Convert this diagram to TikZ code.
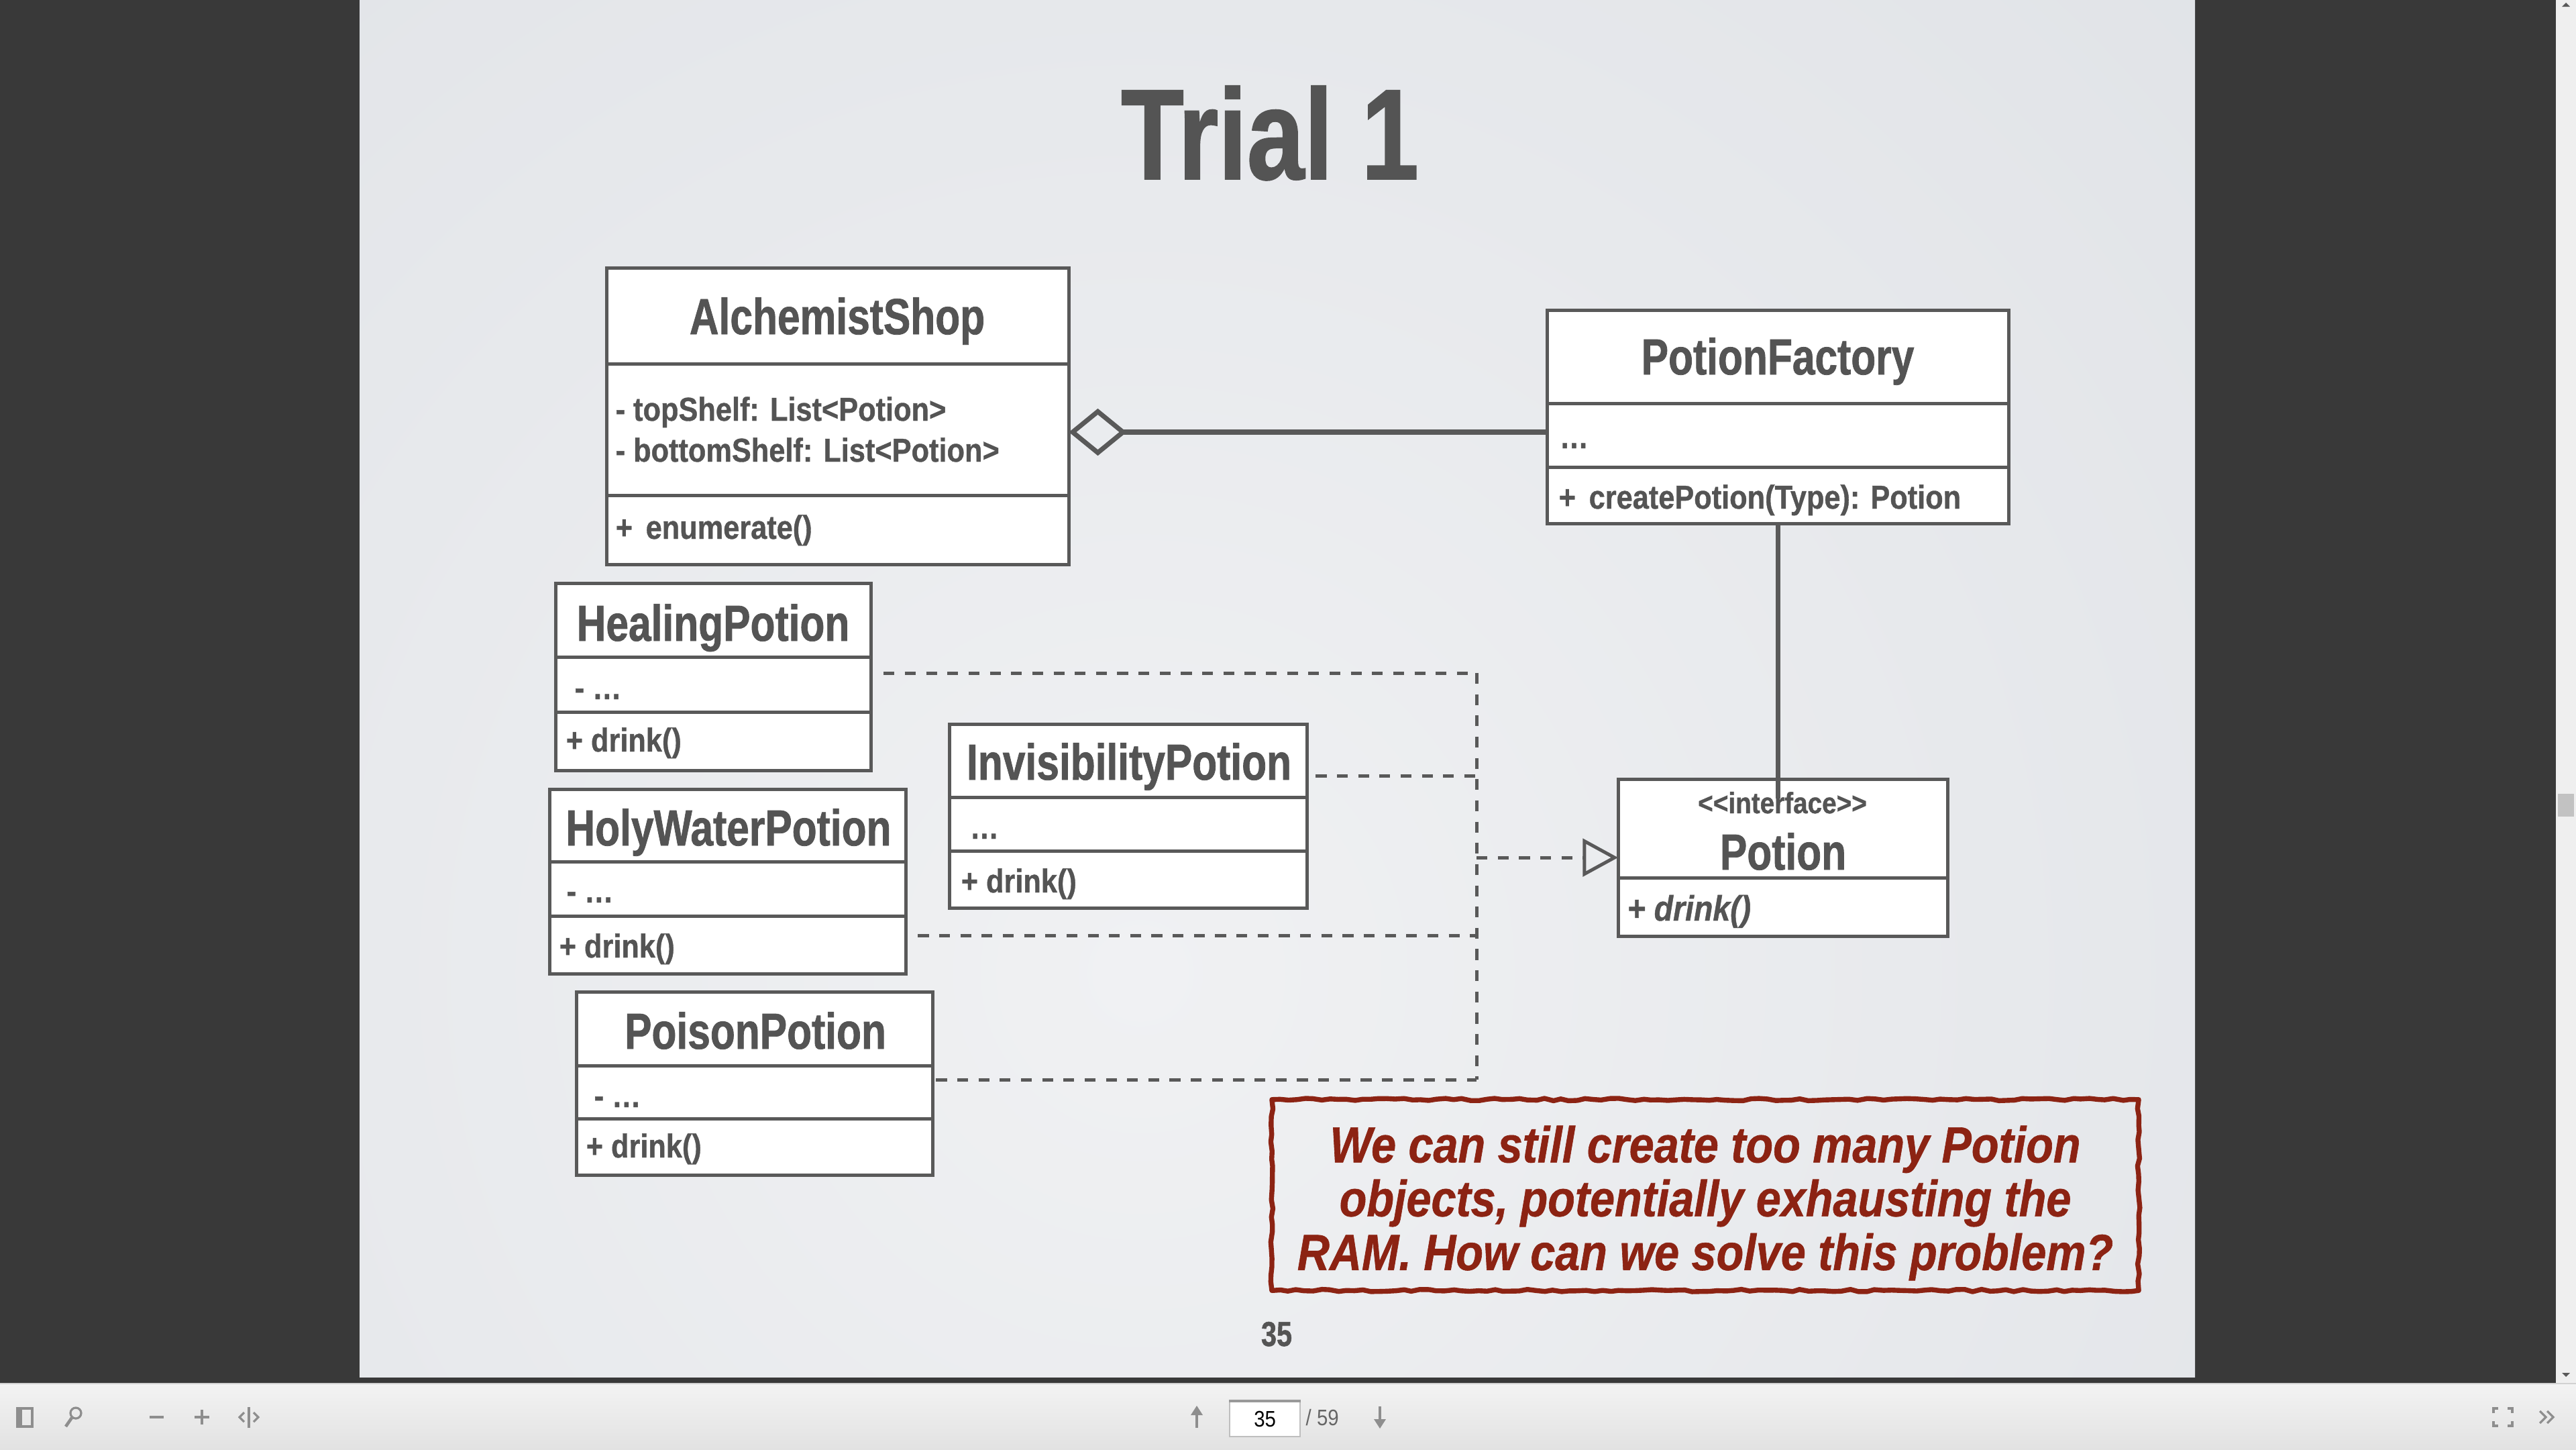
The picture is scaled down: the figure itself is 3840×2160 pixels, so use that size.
\documentclass[tikz,border=0pt]{standalone}
\usepackage{fontspec}
\setmainfont{Liberation Sans}
\newfontfamily\cndA{Liberation Sans}[FakeStretch=0.8, FakeBold=1.0]
\newfontfamily\cndB{Liberation Sans}[FakeStretch=0.88, FakeBold=0.8]
\newfontfamily\cndC{Liberation Sans}[FakeStretch=0.88]
\usetikzlibrary{arrows.meta,decorations.pathmorphing}

\definecolor{darkbg}{HTML}{393939}
\definecolor{slidein}{HTML}{F0F1F3}
\definecolor{slideout}{HTML}{D2D6DC}
\definecolor{linegray}{HTML}{595959}
\definecolor{txtgray}{HTML}{545454}
\definecolor{redc}{HTML}{8C2313}
\definecolor{tbtop}{HTML}{F3F3F3}
\definecolor{tbbot}{HTML}{E2E2E2}
\definecolor{icongray}{HTML}{8E8E8E}
\definecolor{scrollbg}{HTML}{EFEFEF}
\definecolor{thumb}{HTML}{C2C2C2}

\begin{document}
\begin{tikzpicture}[x=0.01cm,y=-0.01cm,
  classbox/.style={draw=linegray, line width=1.42pt, fill=white, inner sep=0pt, outer sep=0pt, anchor=north west},
  divider/.style={draw=linegray, line width=1.42pt},
  ctitle/.style={anchor=base, inner sep=0pt, text=txtgray, font=\cndA\bfseries\fontsize{21.5}{25}\selectfont},
  cattr/.style={anchor=base west, inner sep=0pt, text=txtgray, font=\cndB\bfseries\fontsize{14}{17}\selectfont},
  assoc/.style={draw=linegray, line width=2pt},
  realize/.style={draw=linegray, line width=1.42pt, dash pattern=on 4.6pt off 4.4pt},
  icon/.style={draw=icongray, line width=0.9pt},
]
\useasboundingbox (0,0) rectangle (3840,2160);

% ---------- viewer window ----------
\fill[darkbg] (0,0) rectangle (3840,2062);
\begin{scope}
  \clip (536,0) rectangle (3272,2052);
  \shade[inner color=slidein, outer color=slideout] (1700,1450) circle (4300);
\end{scope}
% scrollbar
\fill[scrollbg] (3810,0) rectangle (3840,2062);
\fill[thumb] (3813,1183) rectangle (3837,1217);
\fill[linegray] (3819,10) -- (3831,10) -- (3825,4) -- cycle;
\fill[linegray] (3819,2046) -- (3831,2046) -- (3825,2052) -- cycle;
% toolbar
\shade[top color=tbtop, bottom color=tbbot] (0,2062) rectangle (3840,2160);
\draw[draw=black!18, line width=0.5pt] (0,2062) -- (3840,2062);

% toolbar icons, left group
\draw[icon] (26,2099) rectangle (48,2126);
\fill[icongray] (26,2099) rectangle (33,2126);
\draw[icon] (113,2106) circle (8);
\draw[icon, line width=1.3pt] (107,2113) -- (98,2126);
\draw[icon, line width=1.3pt] (223,2112) -- (244,2112);
\draw[icon, line width=1.3pt] (290,2112) -- (312,2112);
\draw[icon, line width=1.3pt] (301,2101) -- (301,2123);
\draw[icon] (371,2097) -- (371,2128);
\draw[icon] (364,2105) -- (357,2112) -- (364,2119);
\draw[icon] (378,2105) -- (385,2112) -- (378,2119);
% page navigation
\draw[icon, line width=1.3pt] (1784,2106) -- (1784,2128);
\fill[icongray] (1775,2109) -- (1793,2109) -- (1784,2095) -- cycle;
\node[draw=black!25, fill=white, line width=0.6pt, minimum width=1.05cm, minimum height=0.52cm, inner sep=0pt, anchor=north west] (pagebox) at (1832,2088) {};
\draw[draw=black!40, line width=1pt] (pagebox.north west) -- (pagebox.north east);
\node[inner sep=0pt, font=\cndC\fontsize{9.5}{11}\selectfont, text=black] (pagenum) at (pagebox.center) {35};
\node[anchor=west, inner sep=0pt, font=\cndC\fontsize{9.5}{11}\selectfont, text=black!60] (pagetotal) at (1946,2113) {/ 59};
\draw[icon, line width=1.3pt] (2057,2096) -- (2057,2118);
\fill[icongray] (2048,2115) -- (2066,2115) -- (2057,2129) -- cycle;
% right group
\draw[icon] (3717,2106) -- (3717,2099) -- (3724,2099);
\draw[icon] (3738,2099) -- (3745,2099) -- (3745,2106);
\draw[icon] (3717,2118) -- (3717,2125) -- (3724,2125);
\draw[icon] (3738,2125) -- (3745,2125) -- (3745,2118);
\draw[icon] (3786,2103) -- (3795,2112) -- (3786,2121);
\draw[icon] (3797,2103) -- (3806,2112) -- (3797,2121);

% ---------- slide ----------
\node[anchor=base, inner sep=0pt, text=txtgray, font=\cndA\bfseries\fontsize{54.6}{60}\selectfont] (title) at (1893,267) {Trial 1};

% AlchemistShop
\node[classbox, minimum width=6.89cm, minimum height=4.42cm] (shop) at (904,399) {};
\draw[divider] ([yshift=-1.43cm]shop.north west) -- ([yshift=-1.43cm]shop.north east);
\draw[divider] ([yshift=-3.39cm]shop.north west) -- ([yshift=-3.39cm]shop.north east);
\node[ctitle] (shopname) at (1248,498) {AlchemistShop};
\node[cattr] (shopa1) at (917,627) {- topShelf: List<Potion>};
\node[cattr] (shopa2) at (917,688) {- bottomShelf: List<Potion>};
\node[cattr] (shopm1) at (917,803) {+\hspace{0.4em}enumerate()};

% PotionFactory
\node[classbox, minimum width=6.88cm, minimum height=3.18cm] (factory) at (2306,462) {};
\draw[divider] ([yshift=-1.39cm]factory.north west) -- ([yshift=-1.39cm]factory.north east);
\draw[divider] ([yshift=-2.34cm]factory.north west) -- ([yshift=-2.34cm]factory.north east);
\node[ctitle] (factoryname) at (2650,558) {PotionFactory};
\node[cattr] (factorya1) at (2324,668) {…};
\node[cattr] (factorym1) at (2323,758) {+\hspace{0.4em}createPotion(Type): Potion};

% HealingPotion
\node[classbox, minimum width=4.70cm, minimum height=2.79cm] (heal) at (828,869) {};
\draw[divider] ([yshift=-1.10cm]heal.north west) -- ([yshift=-1.10cm]heal.north east);
\draw[divider] ([yshift=-1.92cm]heal.north west) -- ([yshift=-1.92cm]heal.north east);
\node[ctitle] (healname) at (1063,955) {HealingPotion};
\node[cattr] (heala1) at (856,1042) {- …};
\node[cattr] (healm1) at (843,1120) {+ drink()};

% InvisibilityPotion
\node[classbox, minimum width=5.33cm, minimum height=2.74cm] (invis) at (1415,1079) {};
\draw[divider] ([yshift=-1.09cm]invis.north west) -- ([yshift=-1.09cm]invis.north east);
\draw[divider] ([yshift=-1.89cm]invis.north west) -- ([yshift=-1.89cm]invis.north east);
\node[ctitle] (invisname) at (1683,1162) {InvisibilityPotion};
\node[cattr] (invisa1) at (1445,1250) {…};
\node[cattr] (invism1) at (1432,1330) {+ drink()};

% HolyWaterPotion
\node[classbox, minimum width=5.31cm, minimum height=2.75cm] (holy) at (819,1176) {};
\draw[divider] ([yshift=-1.08cm]holy.north west) -- ([yshift=-1.08cm]holy.north east);
\draw[divider] ([yshift=-1.89cm]holy.north west) -- ([yshift=-1.89cm]holy.north east);
\node[ctitle] (holyname) at (1086,1260) {HolyWaterPotion};
\node[cattr] (holya1) at (844,1345) {- …};
\node[cattr] (holym1) at (833,1427) {+ drink()};

% PoisonPotion
\node[classbox, minimum width=5.31cm, minimum height=2.73cm] (poison) at (859,1478) {};
\draw[divider] ([yshift=-1.10cm]poison.north west) -- ([yshift=-1.10cm]poison.north east);
\draw[divider] ([yshift=-1.89cm]poison.north west) -- ([yshift=-1.89cm]poison.north east);
\node[ctitle] (poisonname) at (1126,1563) {PoisonPotion};
\node[cattr] (poisona1) at (885,1650) {- …};
\node[cattr] (poisonm1) at (873,1725) {+ drink()};

% Potion interface
\node[classbox, minimum width=4.91cm, minimum height=2.34cm] (potion) at (2412,1161) {};
\draw[divider] ([yshift=-1.47cm]potion.north west) -- ([yshift=-1.47cm]potion.north east);
\node[anchor=base, inner sep=0pt, text=txtgray, font=\cndB\bfseries\fontsize{12.5}{15}\selectfont] (stereo) at (2657,1212) {<<interface>>};
\node[ctitle] (potionname) at (2658,1296) {Potion};
\node[cattr, font=\cndB\bfseries\itshape\fontsize{15}{18}\selectfont] (potionm1) at (2425,1372) {+ drink()};

% ---------- connectors ----------
\coordinate (agg) at (0,644);
\draw[assoc, {Diamond[open, length=24.5pt, width=20pt]}-] (shop.east |- agg) -- (factory.west |- agg);
\coordinate (fend) at (2652,1190);
\draw[assoc] (factory.south) -- (factory.south |- fend);

\coordinate (jh) at (2201,1003);
\coordinate (ji) at (2201,1156);
\coordinate (jw) at (2201,1394);
\coordinate (jp) at (2201,1609);
\draw[realize, shorten <=0.19cm] (heal.east |- jh) -- (jh);
\draw[realize, shorten <=0.13cm] (invis.east |- ji) -- (ji);
\draw[realize, shorten <=0.18cm] (holy.east |- jw) -- (jw);
\draw[realize, shorten <=0.05cm] (poison.east |- jp) -- (jp);
\draw[realize] (jh) -- (jp);
\draw[realize, -{Triangle[open, length=15pt, width=16pt]}] (jh |- potion.west) -- (potion.west);

% ---------- note ----------
\node[minimum width=12.90cm, minimum height=2.83cm, inner sep=0pt] (note) at (2542,1781) {};
\node[inner sep=0pt, align=center, text=redc,
      font=\cndB\bfseries\itshape\fontsize{21.5}{22.8}\selectfont] (notetext) at (2542,1793) {We can still create too many Potion\\objects, potentially exhausting the\\RAM. How can we solve this problem?};
\begin{scope}[x=1cm, y=1cm]
  \pgfmathsetseed{7}
  \draw[draw=redc, line width=2.1pt, line join=round, decorate,
        decoration={random steps, segment length=3.5pt, amplitude=0.5pt}]
    (note.north west) -- (note.north east) -- (note.south east) -- (note.south west) -- cycle;
\end{scope}

\node[anchor=base, inner sep=0pt, text=txtgray, font=\cndA\bfseries\fontsize{14.7}{17}\selectfont] (slideno) at (1903,2006) {35};
\end{tikzpicture}
\end{document}
